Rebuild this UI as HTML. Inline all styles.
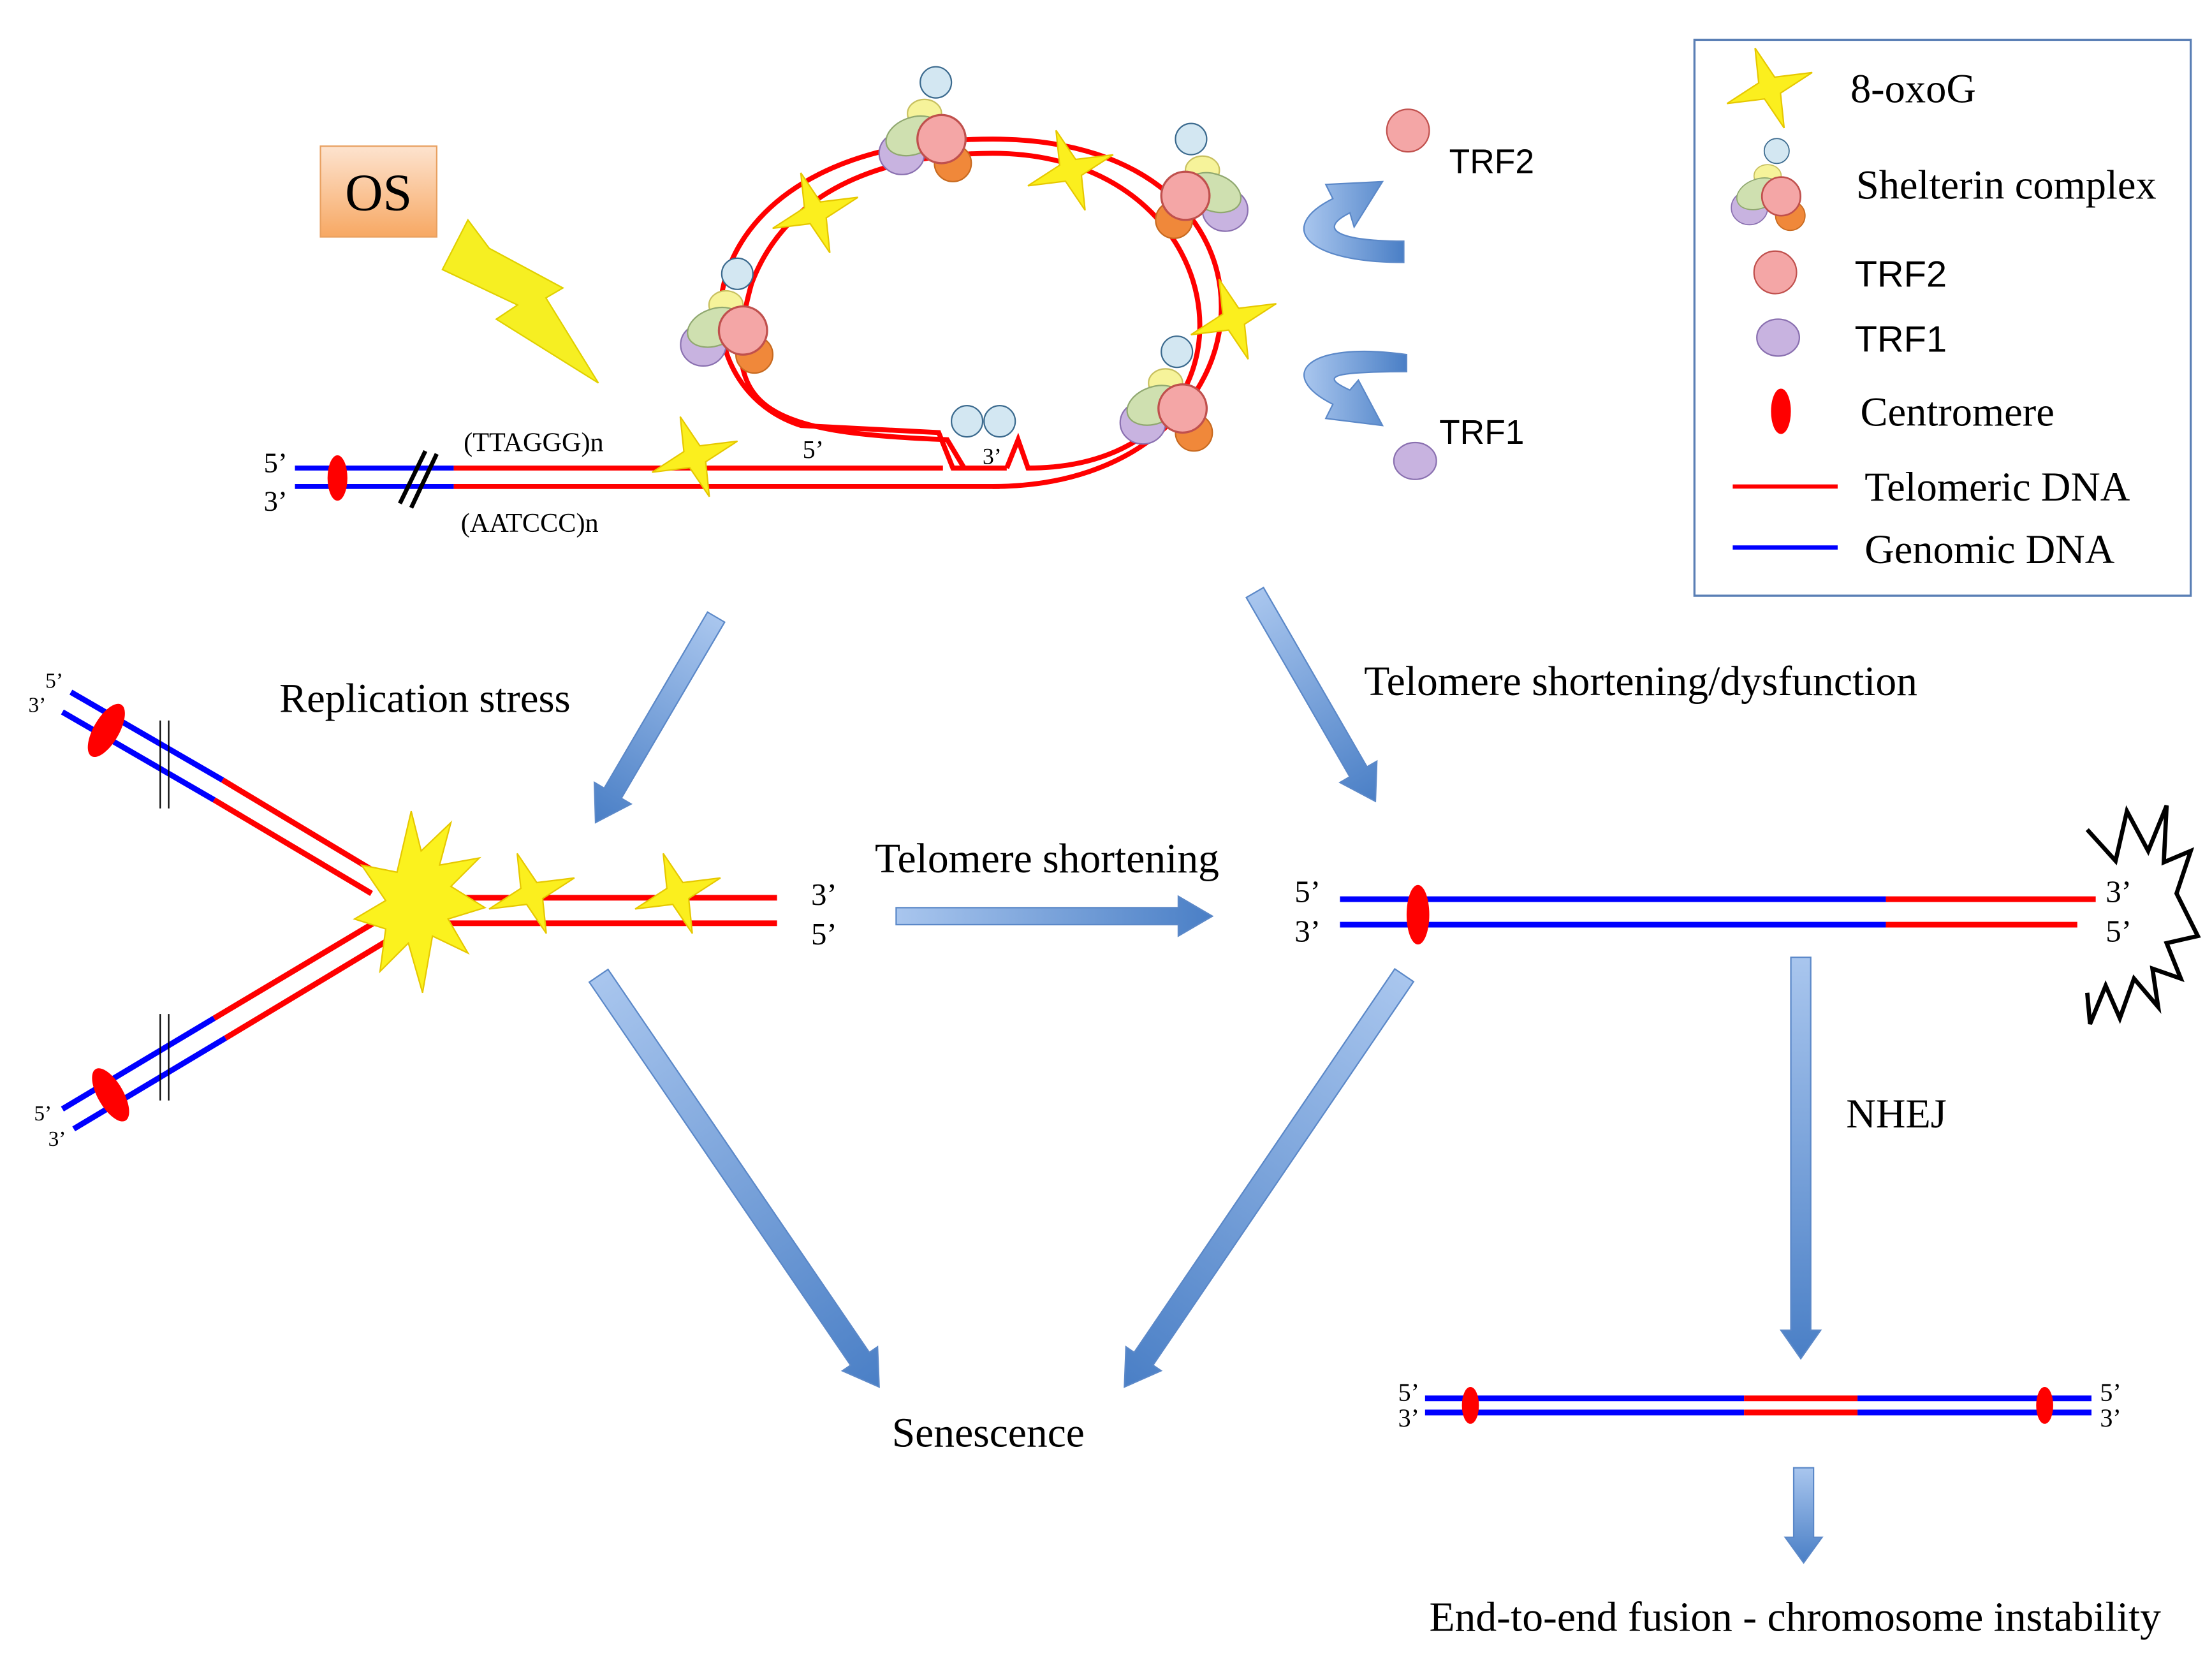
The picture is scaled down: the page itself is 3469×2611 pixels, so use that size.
<!DOCTYPE html>
<html><head><meta charset="utf-8"><style>html,body{margin:0;padding:0;background:#fff}svg{display:block}</style></head>
<body>
<svg width="3469" height="2611" viewBox="0 0 1560 1174" xmlns="http://www.w3.org/2000/svg" font-family="'Liberation Serif',serif">
<defs>
<linearGradient id="ag" x1="0" y1="0" x2="1" y2="0"><stop offset="0" stop-color="#a9c6ee"/><stop offset="1" stop-color="#4a7fc6"/></linearGradient>
<linearGradient id="og" x1="0" y1="0" x2="0" y2="1"><stop offset="0" stop-color="#fde3cf"/><stop offset="1" stop-color="#f7a863"/></linearGradient>
<g id="star"><polygon points="0,-30 6,-6 32,0 6,6 0,30 -6,6 -32,0 -6,-6" fill="#fbef1e" stroke="#e6c800" stroke-width="1" transform="rotate(-20)"/></g>
<g id="shel">
<circle cx="10" cy="-42" r="11" fill="#d3e7f2" stroke="#3b6a8e"/>
<ellipse cx="2" cy="-20" rx="12" ry="10" fill="#f6f39a" stroke="#c8c060"/>
<ellipse cx="22" cy="15" rx="13" ry="13" fill="#f0883a" stroke="#c76a20"/>
<ellipse cx="-14" cy="8" rx="16" ry="15" fill="#c8b3e0" stroke="#8a70b0"/>
<ellipse cx="-4" cy="-6" rx="20" ry="13" fill="#cfe0b0" stroke="#90a870" transform="rotate(-20)"/>
<circle cx="14" cy="-2" r="17" fill="#f4a6a6" stroke="#c0504d" stroke-width="1.5"/>
</g>
</defs>

<!-- Legend -->
<rect x="1195" y="28" width="350" height="392" fill="#fff" stroke="#5a7fb5" stroke-width="1.5"/>
<use href="#star" x="1248" y="62"/>
<text x="1305" y="72" font-size="29">8-oxoG</text>
<g transform="translate(1245,140) scale(0.8)"><use href="#shel"/></g>
<text x="1309" y="140" font-size="29">Shelterin complex</text>
<circle cx="1252" cy="192" r="15" fill="#f4a6a6" stroke="#c0504d"/>
<text x="1308" y="202" font-size="26" font-family="'Liberation Sans',sans-serif">TRF2</text>
<ellipse cx="1254" cy="238" rx="15" ry="13" fill="#c8b3e0" stroke="#8a70b0"/>
<text x="1308" y="248" font-size="26" font-family="'Liberation Sans',sans-serif">TRF1</text>
<ellipse cx="1256" cy="290" rx="7" ry="16" fill="#f00"/>
<text x="1312" y="300" font-size="29">Centromere</text>
<line x1="1222" y1="343" x2="1296" y2="343" stroke="#f00" stroke-width="3"/>
<text x="1315" y="353" font-size="29">Telomeric DNA</text>
<line x1="1222" y1="386" x2="1296" y2="386" stroke="#00f" stroke-width="3"/>
<text x="1315" y="397" font-size="29">Genomic DNA</text>

<!-- OS -->
<rect x="226" y="103" width="82" height="64" fill="url(#og)" stroke="#e8a060"/>
<text x="267" y="148" font-size="37" text-anchor="middle">OS</text>
<polygon points="330,155 312,190 365,215 350,225 422,270 385,210 397,203 345,175" fill="#f6ef22" stroke="#e0d000"/>

<!-- top chromosome -->
<g stroke-width="3.5" fill="none">
<line x1="208" y1="330" x2="320" y2="330" stroke="#00f"/>
<line x1="208" y1="343" x2="320" y2="343" stroke="#00f"/>
<line x1="320" y1="330" x2="665" y2="330" stroke="#f00"/>
<line x1="320" y1="343" x2="705" y2="343" stroke="#f00"/>
<path d="M700 343 C905 343 925 98 700 98 C480 98 470 270 565 300 L662 305 L672 330 L710 330" stroke="#f00"/>
<path d="M680 330 L668 310 C540 305 505 290 530 200 C560 120 650 108 700 108 C880 108 900 330 725 330 L718 310 L710 330" stroke="#f00"/>
</g>
<ellipse cx="238" cy="337" rx="7" ry="16" fill="#f00"/>
<line x1="282" y1="355" x2="300" y2="318" stroke="#000" stroke-width="3"/>
<line x1="290" y1="358" x2="308" y2="320" stroke="#000" stroke-width="3"/>
<text x="186" y="333" font-size="20">5’</text>
<text x="186" y="360" font-size="20">3’</text>
<text x="327" y="318" font-size="19">(TTAGGG)n</text>
<text x="325" y="375" font-size="19">(AATCCC)n</text>
<text x="566" y="323" font-size="18">5’</text>
<text x="693" y="327" font-size="16">3’</text>
<use href="#star" x="575" y="150"/>
<use href="#star" x="755" y="120"/>
<use href="#star" x="870" y="225"/>
<use href="#star" x="490" y="322"/>
<use href="#shel" x="650" y="100"/>
<g transform="translate(850,140) scale(-1,1)"><use href="#shel"/></g>
<use href="#shel" x="510" y="235"/>
<use href="#shel" x="820" y="290"/>
<circle cx="682" cy="297" r="11" fill="#d3e7f2" stroke="#3b6a8e"/>
<circle cx="705" cy="297" r="11" fill="#d3e7f2" stroke="#3b6a8e"/>

<!-- curved arrows -->
<path d="M990 185 C920 185 900 160 940 140 L935 130 L975 128 L955 160 L952 150 C928 162 945 170 990 170 Z" fill="url(#ag)" stroke="#5b88c8"/>
<path d="M992 250 C920 240 900 265 940 285 L935 295 L975 300 L958 268 L952 275 C930 265 940 262 992 262 Z" fill="url(#ag)" stroke="#5b88c8"/>
<circle cx="993" cy="92" r="15" fill="#f4a6a6" stroke="#c0504d"/>
<text x="1022" y="122" font-size="24" font-family="'Liberation Sans',sans-serif">TRF2</text>
<ellipse cx="998" cy="325" rx="15" ry="13" fill="#c8b3e0" stroke="#8a70b0"/>
<text x="1015" y="313" font-size="24" font-family="'Liberation Sans',sans-serif">TRF1</text>

<!-- arrows -->
<g transform="translate(420,580) rotate(120.4)"><polygon points="0,0 -24,-15 -24,-7 -168,-7 -168,7 -24,7 -24,15" fill="url(#ag)" stroke="#5b88c8"/></g>
<g transform="translate(970,565) rotate(60)"><polygon points="0,0 -24,-15 -24,-7 -170,-7 -170,7 -24,7 -24,15" fill="url(#ag)" stroke="#5b88c8"/></g>
<g transform="translate(855,646)"><polygon points="0,0 -24,-14 -24,-6 -223,-6 -223,6 -24,6 -24,14" fill="url(#ag)" stroke="#5b88c8"/></g>
<g transform="translate(620,978) rotate(55.7)"><polygon points="0,0 -24,-15 -24,-8 -351,-8 -351,8 -24,8 -24,15" fill="url(#ag)" stroke="#5b88c8"/></g>
<g transform="translate(793,978) rotate(124.2)"><polygon points="0,0 -24,-15 -24,-8 -351,-8 -351,8 -24,8 -24,15" fill="url(#ag)" stroke="#5b88c8"/></g>
<g transform="translate(1270,958) rotate(90)"><polygon points="0,0 -20,-14 -20,-7 -283,-7 -283,7 -20,7 -20,14" fill="url(#ag)" stroke="#5b88c8"/></g>
<g transform="translate(1272,1102) rotate(90)"><polygon points="0,0 -18,-13 -18,-7 -67,-7 -67,7 -18,7 -18,13" fill="url(#ag)" stroke="#5b88c8"/></g>

<!-- fork -->
<g stroke-width="4" fill="none">
<line x1="50" y1="488" x2="157" y2="550" stroke="#00f"/>
<line x1="44" y1="502" x2="151" y2="564" stroke="#00f"/>
<line x1="157" y1="550" x2="270" y2="618" stroke="#f00"/>
<line x1="151" y1="564" x2="262" y2="630" stroke="#f00"/>
<line x1="44" y1="782" x2="151" y2="718" stroke="#00f"/>
<line x1="52" y1="796" x2="159" y2="732" stroke="#00f"/>
<line x1="151" y1="718" x2="265" y2="650" stroke="#f00"/>
<line x1="159" y1="732" x2="272" y2="664" stroke="#f00"/>
<line x1="300" y1="633" x2="548" y2="633" stroke="#f00"/>
<line x1="300" y1="651" x2="548" y2="651" stroke="#f00"/>
</g>
<ellipse cx="75" cy="515" rx="9" ry="21" fill="#f00" transform="rotate(30 75 515)"/>
<ellipse cx="78" cy="772" rx="9" ry="21" fill="#f00" transform="rotate(-30 78 772)"/>
<line x1="113" y1="508" x2="113" y2="570" stroke="#000"/><line x1="119" y1="508" x2="119" y2="570" stroke="#000"/>
<line x1="113" y1="715" x2="113" y2="776" stroke="#000"/><line x1="119" y1="715" x2="119" y2="776" stroke="#000"/>
<text x="32" y="485" font-size="15">5’</text><text x="20" y="502" font-size="15">3’</text>
<text x="24" y="790" font-size="15">5’</text><text x="34" y="808" font-size="15">3’</text>
<polygon points="290,572 297,600 318,580 310,610 338,605 318,625 342,640 316,648 330,672 305,660 298,700 288,665 268,685 272,655 250,648 272,635 255,610 280,615" fill="#fbf21e" stroke="#e6c800"/>
<use href="#star" x="375" y="630"/>
<use href="#star" x="478" y="630"/>
<text x="572" y="638" font-size="22">3’</text>
<text x="572" y="666" font-size="22">5’</text>
<text x="197" y="502" font-size="29">Replication stress</text>
<text x="962" y="490" font-size="29.5">Telomere shortening/dysfunction</text>
<text x="617" y="615" font-size="29.5">Telomere shortening</text>

<!-- middle chromosome -->
<g stroke-width="4">
<line x1="945" y1="634" x2="1330" y2="634" stroke="#00f"/>
<line x1="945" y1="652" x2="1330" y2="652" stroke="#00f"/>
<line x1="1330" y1="634" x2="1478" y2="634" stroke="#f00"/>
<line x1="1330" y1="652" x2="1465" y2="652" stroke="#f00"/>
</g>
<ellipse cx="1000" cy="645" rx="8" ry="21" fill="#f00"/>
<text x="913" y="636" font-size="22">5’</text>
<text x="913" y="664" font-size="22">3’</text>
<text x="1485" y="636" font-size="22">3’</text>
<text x="1485" y="664" font-size="22">5’</text>
<polyline points="1472,585 1492,607 1500,572 1515,600 1528,568 1526,608 1545,600 1535,630 1550,660 1528,665 1538,690 1518,683 1522,710 1505,690 1495,718 1485,695 1474,722 1472,700" fill="none" stroke="#000" stroke-width="3"/>

<text x="1302" y="795" font-size="29">NHEJ</text>
<text x="629" y="1020" font-size="29.5">Senescence</text>

<!-- fused -->
<g stroke-width="4">
<line x1="1005" y1="986" x2="1230" y2="986" stroke="#00f"/>
<line x1="1005" y1="996" x2="1230" y2="996" stroke="#00f"/>
<line x1="1230" y1="986" x2="1310" y2="986" stroke="#f00"/>
<line x1="1230" y1="996" x2="1310" y2="996" stroke="#f00"/>
<line x1="1310" y1="986" x2="1475" y2="986" stroke="#00f"/>
<line x1="1310" y1="996" x2="1475" y2="996" stroke="#00f"/>
</g>
<ellipse cx="1037" cy="991" rx="6" ry="13" fill="#f00"/>
<ellipse cx="1442" cy="991" rx="6" ry="13" fill="#f00"/>
<text x="986" y="988" font-size="18">5’</text><text x="986" y="1006" font-size="18">3’</text>
<text x="1481" y="988" font-size="18">5’</text><text x="1481" y="1006" font-size="18">3’</text>
<text x="1008" y="1150" font-size="29.5">End-to-end fusion - chromosome instability</text>
</svg>
</body></html>
